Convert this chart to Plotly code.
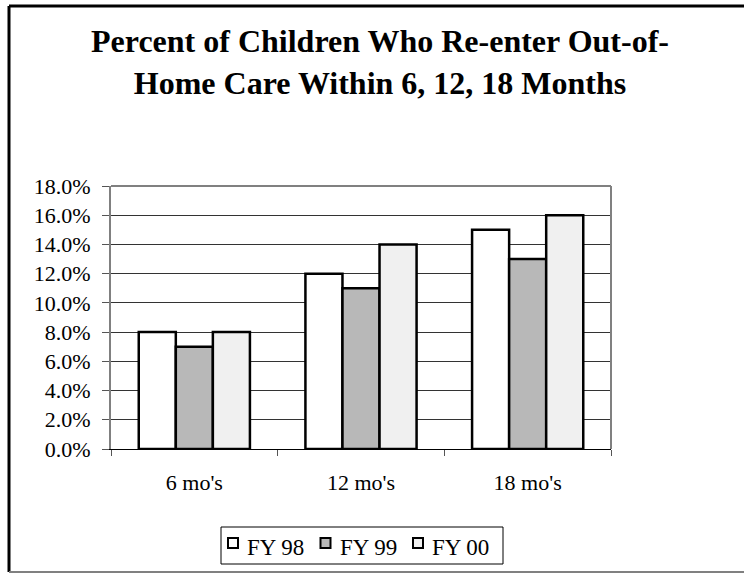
import plotly.graph_objects as go

categories = ["6 mo's", "12 mo's", "18 mo's"]
series_names = ["FY 98", "FY 99", "FY 00"]
fy98 = [8.0, 12.0, 15.0]
fy99 = [7.0, 11.0, 13.0]
fy00 = [8.0, 14.0, 16.0]
colors = ["#ffffff", "#b8b8b8", "#f0f0f0"]
tick_vals = [0, 2, 4, 6, 8, 10, 12, 14, 16, 18]
tick_text = [f"{v:.1f}%" for v in tick_vals]
title_lines = ["Percent of Children Who Re-enter Out-of-", "Home Care Within 6, 12, 18 Months"]

W, H = 744, 574
L, R, T, B = 111, 611, 186, 449

fig = go.Figure()
for name, vals, col in zip(series_names, [fy98, fy99, fy00], colors):
    fig.add_trace(go.Bar(
        x=categories, y=vals, name=name,
        marker=dict(color=col, line=dict(color="black", width=2.5)),
        showlegend=False,
    ))

font = "Liberation Serif"

def px_x(p):
    return (p - L) / (R - L)

def px_y(p):
    return (B - p) / (B - T)

fig.update_layout(
    width=W, height=H,
    margin=dict(l=L, r=W - R, t=T, b=H - B, pad=0),
    paper_bgcolor="white", plot_bgcolor="white",
    barmode="group", bargap=0.333, bargroupgap=0,
    font=dict(family=font, size=22, color="black"),
    title=dict(
        text="<br>".join(title_lines),
        font=dict(family=font, size=32, color="black", weight="bold"),
        x=(380) / W, xanchor="center",
        y=1 - 52 / H, yanchor="middle", yref="container",
    ),
    xaxis=dict(
        showline=True, linecolor="black", linewidth=1,
        ticks="outside", tickson="boundaries", ticklen=6, tickcolor="#555",
        tickfont=dict(family=font, size=22), showgrid=False,
        ticklabelstandoff=14,
    ),
    yaxis=dict(
        range=[0, 18], tickvals=tick_vals, ticktext=tick_text,
        showline=True, linecolor="#808080", linewidth=2,
        ticks="outside", ticklen=7, tickcolor="#555",
        showgrid=True, gridcolor="#333", gridwidth=1,
        zeroline=False, tickfont=dict(family=font, size=22),
        ticklabelstandoff=7,
    ),
)

# plot-area border (top & right, gray)
fig.add_shape(type="line", xref="paper", yref="paper", x0=0, x1=1, y0=1, y1=1,
              line=dict(color="#808080", width=2))
fig.add_shape(type="line", xref="paper", yref="paper", x0=1, x1=1, y0=0, y1=1,
              line=dict(color="#808080", width=2))

# outer chart border
fig.add_shape(type="line", xref="paper", yref="paper",
              x0=px_x(9), x1=px_x(760), y0=px_y(6), y1=px_y(6),
              line=dict(color="black", width=3))
fig.add_shape(type="line", xref="paper", yref="paper",
              x0=px_x(9), x1=px_x(9), y0=px_y(6), y1=px_y(572),
              line=dict(color="black", width=3))
fig.add_shape(type="line", xref="paper", yref="paper",
              x0=px_x(9), x1=px_x(760), y0=px_y(572), y1=px_y(572),
              line=dict(color="#808080", width=2))

# legend (box, swatches, labels)
fig.add_shape(type="rect", xref="paper", yref="paper",
              x0=px_x(221), x1=px_x(503), y0=px_y(527), y1=px_y(564),
              line=dict(color="black", width=1), fillcolor="white")
for i, (name, col) in enumerate(zip(series_names, colors)):
    sx = 228 + 92.5 * i
    fig.add_shape(type="rect", xref="paper", yref="paper",
                  x0=px_x(sx), x1=px_x(sx + 10), y0=px_y(538), y1=px_y(548),
                  line=dict(color="black", width=2), fillcolor=col)
    fig.add_annotation(
        text=name, xref="paper", yref="paper",
        x=px_x(sx + 17), y=px_y(547), xanchor="left", yanchor="middle",
        showarrow=False, font=dict(family=font, size=23, color="black"),
    )

fig.write_html("out.html")
